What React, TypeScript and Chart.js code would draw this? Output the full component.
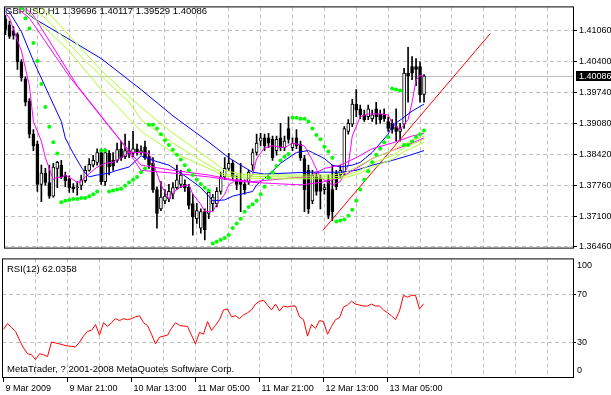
import React, { useEffect, useRef } from 'react';
import { Chart, registerables } from 'chart.js';

Chart.register(...registerables);

const FONT = '"Liberation Sans", Arial, sans-serif';
const GRID = '#C0C0C0';

// ---------------- data ----------------
const titleText = 'GBPUSD,H1 1.39696 1.40117 1.39529 1.40086';
const lastPrice = 1.40086;
const rsiTitle = 'RSI(12) 62.0358';
const copyright = 'MetaTrader, ? 2001-2008 MetaQuotes Software Corp.';

const barOpen = [1.4130,1.4118,1.4104,1.4097,1.4039,1.4003,1.3956,1.3885,1.3864,1.3778,
1.3802,1.3782,1.3753,1.3812,1.3819,1.3798,1.3790,1.3773,1.3771,1.3776,
1.3786,1.3808,1.3819,1.3825,1.3846,1.3784,1.3844,1.3829,1.3829,1.3854,
1.3837,1.3850,1.3844,1.3854,1.3846,1.3858,1.3837,1.3823,1.3767,1.3726,
1.3743,1.3747,1.3757,1.3771,1.3778,1.3778,1.3773,1.3737,1.3705,1.3685,
1.3720,1.3716,1.3737,1.3737,1.3763,1.3794,1.3812,1.3823,1.3788,1.3788,
1.3778,1.3784,1.3819,1.3846,1.3870,1.3877,1.3877,1.3874,1.3850,1.3877,
1.3856,1.3897,1.3856,1.3877,1.3864,1.3833,1.3808,1.3743,1.3794,1.3792,
1.3767,1.3788,1.3767,1.3802,1.3798,1.3802,1.3891,1.3906,1.3949,1.3939,
1.3926,1.3922,1.3918,1.3939,1.3928,1.3928,1.3912,1.3908,1.3901,1.3891,
1.3906,1.4015,1.4029,1.4029,1.4029,1.39696];

const barHigh = [1.4138,1.4126,1.4114,1.4101,1.4044,1.4007,1.3961,1.3895,1.3870,1.3819,
1.3812,1.3819,1.3823,1.3827,1.3829,1.3804,1.3796,1.3780,1.3784,1.3798,
1.3817,1.3833,1.3840,1.3854,1.3854,1.3854,1.3850,1.3846,1.3866,1.3870,
1.3885,1.3870,1.3891,1.3864,1.3860,1.3870,1.3850,1.3835,1.3773,1.3784,
1.3767,1.3778,1.3782,1.3819,1.3808,1.3788,1.3778,1.3757,1.3737,1.3726,
1.3726,1.3767,1.3757,1.3771,1.3804,1.3835,1.3844,1.3829,1.3798,1.3823,
1.3788,1.3808,1.3854,1.3885,1.3887,1.3885,1.3887,1.3881,1.3881,1.3908,
1.3881,1.3922,1.3877,1.3895,1.3870,1.3840,1.3819,1.3808,1.3804,1.3798,
1.3778,1.3798,1.3819,1.3808,1.3819,1.3901,1.3916,1.3959,1.3980,1.3947,
1.3936,1.3947,1.3936,1.3953,1.3936,1.3939,1.3922,1.3916,1.3939,1.3908,
1.4025,1.4070,1.4050,1.4046,1.4039,1.40117];

const barLow = [1.4097,1.4089,1.4087,1.4023,1.3998,1.3945,1.3877,1.3850,1.3763,1.3741,
1.3776,1.3748,1.3751,1.3771,1.3790,1.3773,1.3761,1.3761,1.3755,1.3767,
1.3782,1.3806,1.3815,1.3819,1.3778,1.3776,1.3798,1.3808,1.3825,1.3829,
1.3833,1.3835,1.3837,1.3840,1.3842,1.3831,1.3812,1.3761,1.3685,1.3722,
1.3737,1.3741,1.3747,1.3767,1.3771,1.3763,1.3726,1.3670,1.3695,1.3674,
1.3660,1.3705,1.3722,1.3730,1.3757,1.3788,1.3808,1.3788,1.3767,1.3720,
1.3757,1.3778,1.3808,1.3840,1.3860,1.3850,1.3856,1.3829,1.3840,1.3850,
1.3850,1.3866,1.3850,1.3854,1.3829,1.3720,1.3716,1.3737,1.3755,1.3726,
1.3757,1.3705,1.3701,1.3767,1.3792,1.3798,1.3885,1.3901,1.3922,1.3918,
1.3912,1.3916,1.3912,1.3906,1.3908,1.3912,1.3891,1.3887,1.3870,1.3870,
1.3897,1.3953,1.4001,1.3988,1.3953,1.39529];

const barClose = [1.4108,1.4093,1.4095,1.4039,1.4005,1.3953,1.3885,1.3860,1.3778,1.3802,
1.3782,1.3753,1.3815,1.3825,1.3794,1.3786,1.3771,1.3769,1.3773,1.3788,
1.3808,1.3821,1.3829,1.3846,1.3784,1.3846,1.3815,1.3817,1.3852,1.3835,
1.3850,1.3842,1.3854,1.3846,1.3850,1.3835,1.3819,1.3767,1.3716,1.3751,
1.3753,1.3763,1.3771,1.3788,1.3798,1.3771,1.3733,1.3709,1.3722,1.3720,
1.3681,1.3761,1.3751,1.3763,1.3794,1.3812,1.3823,1.3794,1.3778,1.3778,
1.3767,1.3804,1.3846,1.3866,1.3877,1.3860,1.3866,1.3835,1.3874,1.3856,
1.3870,1.3874,1.3866,1.3860,1.3835,1.3767,1.3726,1.3798,1.3763,1.3763,
1.3771,1.3712,1.3720,1.3773,1.3808,1.3897,1.3908,1.3949,1.3936,1.3926,
1.3916,1.3939,1.3926,1.3922,1.3916,1.3918,1.3897,1.3895,1.3891,1.3897,
1.4015,1.4009,1.4015,1.4023,1.3969,1.40086];

const sarValues = [null,null,null,null,
1.4153,1.4132,1.4110,1.4079,1.4041,1.3992,1.3943,1.3901,1.3868,1.3844,
1.3740,1.3743,1.3745,1.3747,1.3747,1.3749,1.3749,1.3753,1.3757,1.3763,
1.3850,1.3850,
1.3763,1.3765,1.3767,1.3769,1.3775,1.3782,1.3788,1.3794,1.3804,1.3812,
1.3905,1.3905,1.3897,1.3885,1.3872,1.3862,1.3852,1.3841,1.3831,1.3819,1.3808,1.3798,1.3788,1.3779,1.3771,1.3765,
1.3652,1.3656,1.3660,1.3664,1.3670,1.3685,1.3695,1.3705,1.3720,1.3730,1.3736,1.3743,1.3757,1.3773,1.3792,1.3804,1.3817,1.3829,1.3837,1.3843,
1.3920,1.3920,1.3918,1.3918,1.3912,1.3897,1.3883,1.3874,1.3858,1.3848,1.3835,
1.3699,1.3701,1.3703,1.3711,1.3724,1.3743,1.3767,1.3788,1.3806,1.3825,1.3841,1.3854,1.3868,1.3879,
1.3982,1.3980,1.3978,
1.3862,1.3862,1.3870,1.3879,1.3885,1.3893];

// moving averages: bar index / value pairs
const magentaFastBars = [0,1,4,6,7,9,10,12,13,14,15,17,18,19,20,22,23,25,27,29,31,32,34,36,37,39,41,42,44,46,47,49,50,52,53,55,56,58,60,62,63,65,67,70,72,75,77,79,81,82,84,86,87,89,91,94,96,97,99,101,102,103,104,105];
const magentaFastValues = [1.4143,1.4132,1.4062,1.3988,1.3912,1.3870,1.3835,1.3788,1.3794,1.3792,1.3798,1.3788,1.3782,1.3784,1.3794,1.3808,1.3815,1.3823,1.3825,1.3835,1.3846,1.3846,1.3846,1.3844,1.3825,1.3777,1.3747,1.3761,1.3773,1.3777,1.3757,1.3736,1.3720,1.3720,1.3736,1.3757,1.3777,1.3788,1.3784,1.3798,1.3833,1.3856,1.3860,1.3856,1.3866,1.3860,1.3829,1.3792,1.3782,1.3777,1.3784,1.3819,1.3881,1.3922,1.3928,1.3928,1.3926,1.3908,1.3895,1.3916,1.3953,1.4000,1.4011,1.4008];

const blueFastBars = [0,1,4,7,11,14,15,17,19,20,21,23,26,28,31,34,37,41,44,47,49,51,52,55,57,59,62,63,66,69,73,76,77,80,82,84,87,89,92,96,97,99,102,105];
const blueFastValues = [1.4153,1.4145,1.4103,1.4041,1.3967,1.3912,1.3877,1.3844,1.3815,1.3802,1.3794,1.3798,1.3802,1.3808,1.3815,1.3839,1.3829,1.3819,1.3802,1.3784,1.3771,1.3753,1.3743,1.3745,1.3753,1.3757,1.3763,1.3777,1.3798,1.3823,1.3846,1.3850,1.3846,1.3833,1.3819,1.3815,1.3819,1.3825,1.3846,1.3885,1.3903,1.3915,1.3934,1.3949];

const blueSlowBars = [4,7,14,24,34,42,51,56,59,62,65,76,84,88,92,97,101,105];
const blueSlowValues = [1.4153,1.4132,1.4097,1.4046,1.3980,1.3924,1.3868,1.3835,1.3819,1.3804,1.3800,1.3804,1.3804,1.3808,1.3819,1.3829,1.3839,1.3850];

const green1Bars = [9,12,24,34,42,51,55,59,67,74,82,85,89,92,97,100,105];
const green1Values = [1.4153,1.4132,1.4021,1.3942,1.3887,1.3833,1.3808,1.3800,1.3798,1.3798,1.3798,1.3802,1.3819,1.3833,1.3850,1.3864,1.3881];
const green2Bars = [7,10,20,31,34,42,51,55,59,67,74,82,85,89,92,97,100,105];
const green2Values = [1.4153,1.4132,1.4041,1.3953,1.3916,1.3866,1.3819,1.3800,1.3796,1.3794,1.3794,1.3794,1.3796,1.3808,1.3823,1.3839,1.3856,1.3874];
const green3Bars = [4,7,16,24,34,42,51,55,59,67,74,82,85,89,92,97,100,105];
const green3Values = [1.4153,1.4134,1.4062,1.3980,1.3891,1.3846,1.3812,1.3796,1.3792,1.3790,1.3790,1.3790,1.3792,1.3802,1.3815,1.3831,1.3848,1.3868];

const magenta2Bars = [3,6,16,26,34,42,51,57,62,67,72,76,80,84,88,92,97,102,105];
const magenta2Values = [1.4153,1.4132,1.4008,1.3901,1.3819,1.3808,1.3798,1.3788,1.3784,1.3788,1.3792,1.3794,1.3812,1.3819,1.3835,1.3854,1.3866,1.3881,1.3887];
const magenta3Bars = [5,7,18,29,34,42,51,59,67,74,79,84,88,92,97,102,105];
const magenta3Values = [1.4153,1.4138,1.3988,1.3870,1.3808,1.3802,1.3794,1.3784,1.3780,1.3777,1.3782,1.3792,1.3812,1.3833,1.3850,1.3866,1.3877];

const trendBars = [79.6, 121.6];
const trendValues = [1.3680, 1.4099];

const rsiValues = [40.7,45.5,42.3,39.0,31.7,25.2,20.3,19.5,15.4,20.3,
19.5,17.9,30.1,29.3,28.5,27.6,26.8,26.4,26.0,30.0,
35.0,39.0,39.8,44.7,35.8,46.3,43.1,46.3,49.6,48.0,
49.6,48.8,49.6,51.2,52.0,46.3,43.9,36.6,28.5,34.1,
35.0,35.8,41.5,46.3,43.9,43.5,43.1,35.8,28.5,38.2,
36.6,47.2,39.8,44.0,48.8,56.9,57.7,51.2,52.0,49.6,
52.8,54.5,56.9,61.8,64.2,65.0,61.0,56.9,61.8,56.1,
60.2,59.3,60.2,60.2,51.2,48.8,35.0,44.7,41.5,48.0,
47.2,36.6,43.1,48.8,50.4,59.3,61.0,64.2,61.8,61.0,
60.2,60.2,61.8,60.2,60.2,56.9,54.5,52.0,48.8,56.1,
69.1,67.5,69.1,69.1,57.7,62.04];

const priceTicks = [1.3646, 1.3710, 1.3776, 1.3842, 1.3908, 1.3974, 1.4040, 1.4106];
const rsiTicks = [30, 70];
const gridBars = [8,16,24,32,40,48,56,64,72,80,88,96,104,112,120,128,136];
const timeLabelBars = [0,16,32,48,64,80,96];
const timeLabels = ['9 Mar 2009','9 Mar 21:00','10 Mar 13:00','11 Mar 05:00','11 Mar 21:00','12 Mar 13:00','13 Mar 05:00'];

// ---------------- layout ----------------
const W = 611;
const MAIN_H = 256;
const RSI_TOP = 252;
const RSI_H = 143;
const X_MIN = -0.375;
const X_MAX = 142.375;
const PRICE_MIN = 1.36413;
const PRICE_MAX = 1.41549;
const DASH = [4, 3];

const pts = (bars: number[], vals: number[]) => bars.map((b, i) => ({ x: b, y: vals[i] }));

const lineDs = (label: string, bars: number[], vals: number[], color: string) => ({
  type: 'line',
  label,
  data: pts(bars, vals),
  borderColor: color,
  borderWidth: 1,
  pointRadius: 0,
  tension: 0,
  fill: false,
  order: 1,
});

const mainPlugin = {
  id: 'mt4main',
  beforeDatasetsDraw(chart: any) {
    const { ctx, chartArea: a, scales } = chart;
    const py = Math.round(scales.y.getPixelForValue(lastPrice)) + 0.5;
    ctx.save();
    ctx.strokeStyle = GRID;
    ctx.lineWidth = 1;
    ctx.beginPath();
    ctx.moveTo(a.left, py);
    ctx.lineTo(a.right, py);
    ctx.stroke();
    ctx.fillStyle = '#000';
    ctx.font = `9.5px ${FONT}`;
    ctx.textBaseline = 'middle';
    ctx.textAlign = 'left';
    ctx.fillText(titleText, 5, 11);
    ctx.restore();
  },
  afterDraw(chart: any) {
    const { ctx, chartArea: a, scales } = chart;
    ctx.save();
    ctx.strokeStyle = '#000';
    ctx.lineWidth = 1;
    ctx.strokeRect(a.left + 0.5, a.top - 0.5, a.right - a.left, a.bottom - a.top);
    const py = Math.round(scales.y.getPixelForValue(lastPrice));
    ctx.fillStyle = '#000';
    ctx.fillRect(a.right + 3, py - 5, W - a.right - 3, 10);
    ctx.fillStyle = '#fff';
    ctx.font = `9px ${FONT}`;
    ctx.textBaseline = 'middle';
    ctx.textAlign = 'left';
    ctx.fillText(lastPrice.toFixed(5), a.right + 6, py + 0.5);
    ctx.restore();
  },
};

const rsiPlugin = {
  id: 'mt4rsi',
  afterDraw(chart: any) {
    const { ctx, chartArea: a } = chart;
    ctx.save();
    ctx.strokeStyle = '#000';
    ctx.lineWidth = 1;
    ctx.strokeRect(a.left + 0.5, a.top + 0.5, a.right - a.left, a.bottom - a.top - 1);
    ctx.fillStyle = '#000';
    ctx.font = `9px ${FONT}`;
    ctx.textBaseline = 'middle';
    ctx.textAlign = 'left';
    ctx.fillText('100', a.right + 4, a.top + 7);
    ctx.fillText('0', a.right + 4, a.bottom - 7);
    ctx.font = `9.5px ${FONT}`;
    ctx.fillText(rsiTitle, 7, a.top + 11);
    ctx.fillText(copyright, 7, a.bottom - 9);
    ctx.restore();
  },
};

function MainChart() {
  const ref = useRef<HTMLCanvasElement>(null);
  useEffect(() => {
    const idx = barOpen.map((_, i) => i);
    const sarPts = idx.filter((i) => sarValues[i] != null).map((i) => ({ x: i, y: sarValues[i] }));
    const chart = new Chart(ref.current as HTMLCanvasElement, {
      type: 'bar',
      data: {
        datasets: [
          {
            type: 'bar',
            label: 'wick',
            data: idx.map((i) => ({ x: i, y: [barLow[i], barHigh[i]] })),
            backgroundColor: '#000',
            borderWidth: 0,
            barThickness: 1,
            grouped: false,
            order: 3,
          },
          {
            type: 'bar',
            label: 'body',
            data: idx.map((i) => ({ x: i, y: [Math.min(barOpen[i], barClose[i]), Math.max(barOpen[i], barClose[i])] })),
            backgroundColor: (c: any) => (barClose[c.dataIndex] >= barOpen[c.dataIndex] ? '#FFFFFF' : '#000000'),
            borderColor: '#000',
            borderWidth: 1,
            borderSkipped: false,
            barThickness: 3,
            grouped: false,
            order: 2,
          },
          lineDs('MA slow 3', green3Bars, green3Values, '#ADFF2F'),
          lineDs('MA slow 2', green2Bars, green2Values, '#ADFF2F'),
          lineDs('MA slow 1', green1Bars, green1Values, '#ADFF2F'),
          lineDs('MA mid 3', magenta3Bars, magenta3Values, '#FF00FF'),
          lineDs('MA mid 2', magenta2Bars, magenta2Values, '#FF00FF'),
          lineDs('MA blue slow', blueSlowBars, blueSlowValues, '#0000FF'),
          lineDs('MA blue fast', blueFastBars, blueFastValues, '#0000FF'),
          lineDs('MA magenta fast', magentaFastBars, magentaFastValues, '#FF00FF'),
          lineDs('trend', trendBars, trendValues, '#FF0000'),
          {
            type: 'line',
            label: 'SAR',
            data: sarPts,
            showLine: false,
            pointStyle: 'circle',
            pointRadius: 2,
            pointBorderWidth: 0,
            pointBackgroundColor: '#00FF00',
            order: 0,
          },
        ] as any,
      },
      options: {
        responsive: false,
        maintainAspectRatio: false,
        animation: false,
        devicePixelRatio: 1,
        events: [],
        layout: { padding: { left: 2, top: 2, right: 0, bottom: 5 } },
        plugins: { legend: { display: false }, tooltip: { enabled: false } },
        scales: {
          x: {
            type: 'linear',
            min: X_MIN,
            max: X_MAX,
            offset: false,
            afterBuildTicks: (s: any) => { s.ticks = gridBars.map((v) => ({ value: v })); },
            afterFit: (s: any) => { s.height = 0; },
            ticks: { display: false },
            grid: { color: GRID, drawTicks: false, offset: false },
            border: { display: false, dash: DASH },
          },
          y: {
            type: 'linear',
            position: 'right',
            min: PRICE_MIN,
            max: PRICE_MAX,
            afterBuildTicks: (s: any) => { s.ticks = priceTicks.map((v) => ({ value: v })); },
            afterFit: (s: any) => { s.width = 38; },
            ticks: {
              callback: (v: any) => Number(v).toFixed(5),
              color: '#000',
              font: { size: 9, family: FONT },
              padding: 2,
              autoSkip: false,
            },
            grid: { color: GRID, tickLength: 4, tickColor: '#000' },
            border: { display: false, dash: DASH },
          },
        },
      } as any,
      plugins: [mainPlugin],
    });
    return () => chart.destroy();
  }, []);
  return <canvas ref={ref} width={W} height={MAIN_H} style={{ position: 'absolute', left: 0, top: 0, width: W, height: MAIN_H }} />;
}

function RsiChart() {
  const ref = useRef<HTMLCanvasElement>(null);
  useEffect(() => {
    const labelFor = (v: number) => {
      const k = timeLabelBars.indexOf(v);
      return k >= 0 ? timeLabels[k] : '';
    };
    const chart = new Chart(ref.current as HTMLCanvasElement, {
      type: 'line',
      data: {
        datasets: [
          {
            label: 'RSI(12)',
            data: rsiValues.map((v, i) => ({ x: i, y: v })),
            borderColor: '#FF0000',
            borderWidth: 1,
            pointRadius: 0,
            tension: 0,
            fill: false,
          },
        ],
      },
      options: {
        responsive: false,
        maintainAspectRatio: false,
        animation: false,
        devicePixelRatio: 1,
        events: [],
        layout: { padding: { left: 2, top: 2, right: 0, bottom: 0 } },
        plugins: { legend: { display: false }, tooltip: { enabled: false } },
        scales: {
          x: {
            type: 'linear',
            min: X_MIN,
            max: X_MAX,
            afterBuildTicks: (s: any) => { s.ticks = [0, ...gridBars].map((v) => ({ value: v })); },
            afterFit: (s: any) => { s.height = 17; },
            ticks: {
              callback: (v: any) => labelFor(Number(v)),
              color: '#000',
              font: { size: 9, family: FONT },
              align: 'start',
              labelOffset: 2,
              padding: 1,
              maxRotation: 0,
              autoSkip: false,
            },
            grid: {
              color: (c: any) => (c.tick && c.tick.value === 0 ? 'rgba(0,0,0,0)' : GRID),
              tickColor: (c: any) => (c.tick && timeLabelBars.indexOf(c.tick.value) >= 0 ? '#000' : 'rgba(0,0,0,0)'),
              tickLength: 4,
            },
            border: { display: false, dash: DASH },
          },
          y: {
            type: 'linear',
            position: 'right',
            min: 0,
            max: 100,
            afterBuildTicks: (s: any) => { s.ticks = rsiTicks.map((v) => ({ value: v })); },
            afterFit: (s: any) => { s.width = 38; },
            ticks: { color: '#000', font: { size: 9, family: FONT }, padding: 1, autoSkip: false },
            grid: { color: GRID, tickLength: 3, tickColor: '#000' },
            border: { display: false, dash: DASH },
          },
        },
      } as any,
      plugins: [rsiPlugin],
    });
    return () => chart.destroy();
  }, []);
  return <canvas ref={ref} width={W} height={RSI_H} style={{ position: 'absolute', left: 0, top: RSI_TOP, width: W, height: RSI_H }} />;
}

export default function App() {
  return (
    <div style={{ position: 'fixed', left: 0, top: 0, width: W, height: 395, background: '#fff', overflow: 'hidden' }}>
      <MainChart />
      <RsiChart />
    </div>
  );
}
